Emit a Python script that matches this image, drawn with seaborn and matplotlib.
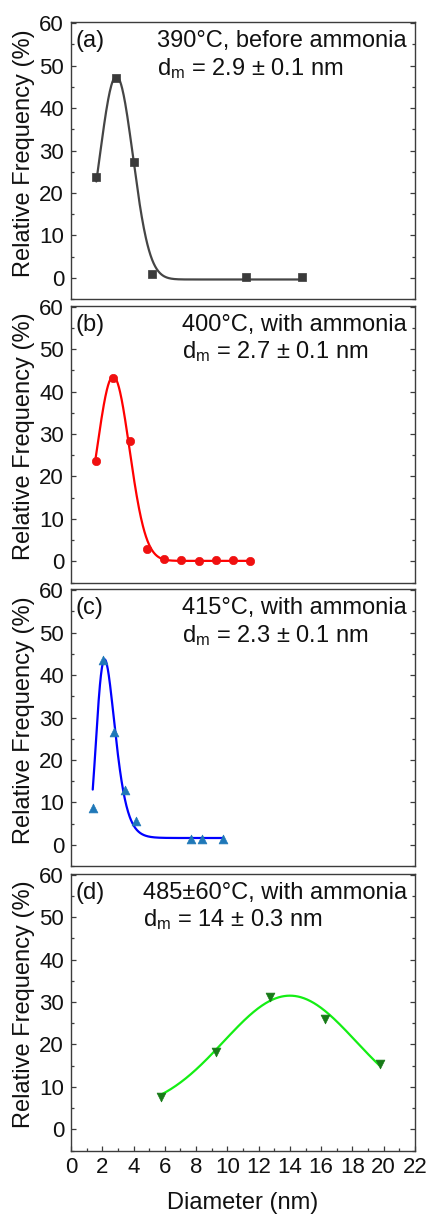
import numpy as np
import pandas as pd
import matplotlib
matplotlib.use("Agg")
import matplotlib.pyplot as plt
from matplotlib.ticker import MultipleLocator
import seaborn as sns

sns.set_theme(style="ticks")
plt.rcParams["font.family"] = ["Liberation Sans", "DejaVu Sans"]
plt.rcParams["mathtext.default"] = "regular"

# Measured particle size distributions (diameter in nm, relative frequency in %)
diam_a = [1.62, 2.85, 4.0, 5.2, 11.2, 14.8]
freq_a = [23.8, 47.1, 27.3, 0.9, 0.3, 0.3]
diam_b = [1.58, 2.71, 3.77, 4.86, 5.97, 7.05, 8.16, 9.25, 10.36, 11.45]
freq_b = [23.6, 43.3, 28.4, 2.8, 0.6, 0.4, 0.1, 0.4, 0.2, 0.0]
diam_c = [1.39, 2.07, 2.77, 3.47, 4.18, 7.65, 8.36, 9.74]
freq_c = [8.6, 43.6, 26.5, 12.9, 5.5, 1.3, 1.3, 1.3]
diam_d = [5.75, 9.25, 12.75, 16.24, 19.74]
freq_d = [7.7, 18.2, 31.3, 26.1, 15.5]

# Fitted peak models: (kind, y0, amplitude, centre, width)
fit_a = ("gauss", -0.4, 47.9, 2.9, 1.06)
fit_b = ("gauss", 0.1, 43.5, 2.7, 1.04)
fit_c = ("lognorm", 1.6, 42.1, 2.15, 0.27)
fit_d = ("gauss", 4.0, 27.5, 14.0, 4.24)

panel_tags = ["(a)", "(b)", "(c)", "(d)"]
conditions = ["390°C, before ammonia", "400°C, with ammonia",
              "415°C, with ammonia", "485±60°C, with ammonia"]
mean_sizes = ["2.9 ± 0.1", "2.7 ± 0.1", "2.3 ± 0.1", "14 ± 0.3"]

x_ticks = list(range(0, 23, 2))
y_ticks = list(range(0, 61, 10))


def peak_model(x, fit):
    kind, y0, amp, xc, w = fit
    if kind == "gauss":
        return y0 + amp * np.exp(-((x - xc) ** 2) / (2 * w ** 2))
    return y0 + amp * np.exp(-(np.log(x / xc) ** 2) / (2 * w ** 2))


series = [
    (diam_a, freq_a, fit_a, "s", 30, "#3a3a3a", "#454545"),
    (diam_b, freq_b, fit_b, "o", 36, "#f01010", "#ff0000"),
    (diam_c, freq_c, fit_c, "^", 40, "#1f78b8", "#0000ff"),
    (diam_d, freq_d, fit_d, "v", 40, "#177a17", "#14ee14"),
]

W, H = 429, 1215
fig = plt.figure(figsize=(W / 100, H / 100), dpi=100)
left_px, right_px, height_px = 71, 415, 277
tops_px = [22, 305.5, 589, 873.5]
spine_col = "#3c3c3c"

for i, (xs, ys, fit, marker, size, mcol, lcol) in enumerate(series):
    top = tops_px[i]
    ax = fig.add_axes([left_px / W, 1 - (top + height_px) / H,
                       (right_px - left_px) / W, height_px / H])

    grid = np.linspace(min(xs), max(xs), 400)
    curve = pd.DataFrame({"x": grid, "y": peak_model(grid, fit)})
    pts = pd.DataFrame({"x": xs, "y": ys})
    sns.lineplot(data=curve, x="x", y="y", ax=ax, color=lcol, lw=1.6)
    sns.scatterplot(data=pts, x="x", y="y", ax=ax, marker=marker, s=size,
                    color=mcol, edgecolor=mcol, linewidth=0.5, zorder=3)

    ax.set_xlim(0, 22)
    ax.set_ylim(-5, 60.3)
    ax.set_yticks(y_ticks)
    ax.yaxis.set_minor_locator(MultipleLocator(5))
    for sp in ax.spines.values():
        sp.set_color(spine_col)
        sp.set_linewidth(1.0)
        sp.set_visible(True)

    ax.tick_params(axis="y", which="both", direction="in", left=True,
                   right=True, colors=spine_col, labelcolor="#111111",
                   labelsize=16, pad=5, width=0.9)
    ax.tick_params(axis="y", which="major", length=3.8)
    ax.tick_params(axis="y", which="minor", length=2.2)

    ax.set_ylabel("Relative Frequency (%)", fontsize=17, color="#111111")
    ax.yaxis.set_label_coords(-0.105, 0.527)

    if i == 3:
        ax.set_xticks(x_ticks)
        ax.xaxis.set_minor_locator(MultipleLocator(1))
        ax.tick_params(axis="x", which="both", direction="in", bottom=True,
                       top=False, colors=spine_col, labelcolor="#111111",
                       labelsize=16, pad=5, width=0.9)
        ax.tick_params(axis="x", which="major", length=3.8)
        ax.tick_params(axis="x", which="minor", length=2.2)
        ax.set_xlabel("Diameter (nm)", fontsize=17, color="#111111")
        ax.xaxis.set_label_coords(0.5, -0.150)
    else:
        ax.set_xticks(x_ticks)
        ax.tick_params(axis="x", which="both", bottom=False, top=False,
                       labelbottom=False)
        ax.set_xlabel("")

    ax.text(0.013, 1 - 25 / height_px, panel_tags[i], transform=ax.transAxes,
            ha="left", va="baseline", fontsize=17, color="#111111")
    t1 = ax.text(0.977, 1 - 25 / height_px, conditions[i],
                 transform=ax.transAxes, ha="right", va="baseline",
                 fontsize=17, color="#111111")
    fig.canvas.draw()
    x0 = ax.transAxes.inverted().transform(
        (t1.get_window_extent().x0, 0))[0]
    ax.text(x0, 1 - 53 / height_px, f"d$_{{m}}$ = {mean_sizes[i]} nm",
            transform=ax.transAxes, ha="left", va="baseline", fontsize=17,
            color="#111111")

fig.savefig("out.png", dpi=100)
